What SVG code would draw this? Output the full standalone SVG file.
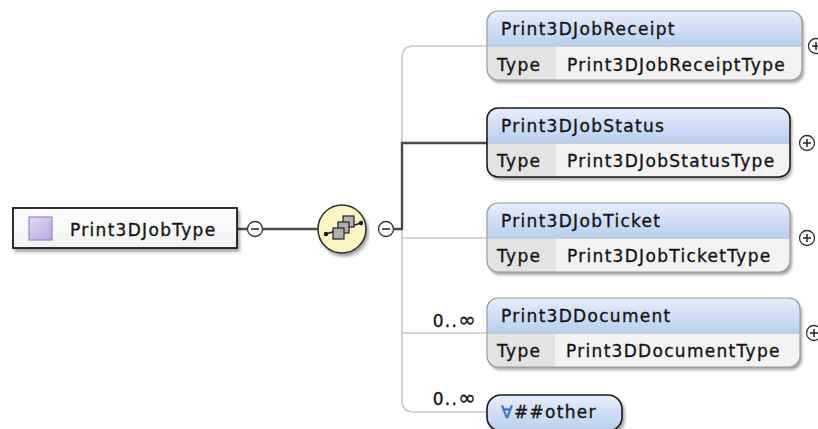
<svg xmlns="http://www.w3.org/2000/svg" width="818" height="429" viewBox="0 0 818 429">
<defs>
<linearGradient id="hdr" x1="0" y1="0" x2="0" y2="1"><stop offset="0" stop-color="#e6eefb"/><stop offset="1" stop-color="#b9cfef"/></linearGradient>
<linearGradient id="root" x1="0" y1="0" x2="0" y2="1"><stop offset="0" stop-color="#ffffff"/><stop offset="1" stop-color="#f1f1f3"/></linearGradient>
<linearGradient id="sq" x1="0" y1="0" x2="1" y2="1"><stop offset="0" stop-color="#e4dcf4"/><stop offset="1" stop-color="#b8a6e0"/></linearGradient>
<filter id="sh" x="-10%" y="-20%" width="130%" height="150%"><feDropShadow dx="2" dy="3" stdDeviation="1.5" flood-color="#000" flood-opacity="0.35"/></filter>
<clipPath id="cR"><rect x="487" y="11" width="315" height="69" rx="11"/></clipPath>
<clipPath id="cS"><rect x="487" y="108" width="303" height="69" rx="11"/></clipPath>
<clipPath id="cT"><rect x="487" y="203" width="303" height="69" rx="11"/></clipPath>
<clipPath id="cD"><rect x="487" y="298" width="313" height="69" rx="11"/></clipPath>
</defs>
<style>
text{font-family:"DejaVu Sans","Liberation Sans",sans-serif;font-size:17px;fill:#151515;letter-spacing:1.3px;stroke:#151515;stroke-width:0.35}
.inf{font-size:21px}
.thin{fill:none;stroke:#c8c8c8;stroke-width:1.6}
.dark{fill:none;stroke:#4a4a4a;stroke-width:2.4}
.tog{fill:#fff;stroke:#333;stroke-width:1.3}
.sign{stroke:#222;stroke-width:1.5;fill:none}
.hdr{fill:url(#hdr)}
.tc{fill:#e3e3e3}
.vc{fill:#f3f3f3}
.sep{stroke:#cfcfcf;stroke-width:1}
.bd{fill:none;stroke:#9a9a9a;stroke-width:1.2}
.bdk{fill:none;stroke:#1a1a1a;stroke-width:1.6}
</style>

<g id="connectors">
<line class="dark" x1="238" y1="229" x2="318" y2="229"/>
<path class="thin" d="M487 46 H414 Q402 46 402 58 V400 Q402 412 414 412 H487"/>
<line class="thin" x1="402" y1="238" x2="487" y2="238"/>
<line class="thin" x1="402" y1="333" x2="487" y2="333"/>
<path class="dark" d="M394 229 H402 V143 H487"/>
</g>

<g id="root-node">
<rect x="13" y="208" width="224" height="40" fill="url(#root)" stroke="#1a1a1a" stroke-width="1.8" filter="url(#sh)"/>
<rect x="29" y="217" width="23" height="23" fill="url(#sq)" stroke="#9a86c6" stroke-width="1.2"/>
<text x="70" y="236">Print3DJobType</text>
<circle class="tog" cx="255" cy="229" r="7.5"/>
<line class="sign" x1="251" y1="229" x2="259" y2="229"/>
</g>

<g id="sequence">
<circle cx="342" cy="229" r="24" fill="#fbf6c4" stroke="#333" stroke-width="1.6" filter="url(#sh)"/>
<line x1="326" y1="234" x2="361" y2="223" stroke="#222" stroke-width="1.4"/>
<circle cx="326" cy="234" r="2.2" fill="#111"/>
<circle cx="361" cy="223" r="2.2" fill="#111"/>
<rect x="343" y="216" width="11" height="11" fill="#b0b0b0" stroke="#222" stroke-width="1.2"/>
<rect x="338" y="222" width="11" height="11" fill="#b0b0b0" stroke="#222" stroke-width="1.2"/>
<rect x="333" y="228" width="11" height="11" fill="#b0b0b0" stroke="#222" stroke-width="1.2"/>
<circle class="tog" cx="386" cy="229" r="7.5"/>
<line class="sign" x1="382" y1="229" x2="390" y2="229"/>
</g>

<g id="Print3DJobReceipt">
<rect x="487" y="11" width="315" height="69" rx="11" fill="#fff" filter="url(#sh)"/>
<g clip-path="url(#cR)">
<rect class="hdr" x="487" y="11" width="315" height="35"/>
<rect class="tc" x="487" y="46" width="69" height="34"/>
<rect class="vc" x="556" y="46" width="246" height="34"/>
<line class="sep" x1="487" y1="46.5" x2="802" y2="46.5"/>
</g>
<rect class="bd" x="487" y="11" width="315" height="69" rx="11"/>
<text x="501" y="35">Print3DJobReceipt</text>
<text x="497" y="71">Type</text>
<text x="567" y="71">Print3DJobReceiptType</text>
<circle class="tog" cx="816" cy="46" r="7.5"/>
<line class="sign" x1="812" y1="46" x2="820" y2="46"/>
<line class="sign" x1="816" y1="42" x2="816" y2="50"/>
</g>

<g id="Print3DJobStatus">
<rect x="487" y="108" width="303" height="69" rx="11" fill="#fff" filter="url(#sh)"/>
<g clip-path="url(#cS)">
<rect class="hdr" x="487" y="108" width="303" height="35"/>
<rect class="tc" x="487" y="143" width="69" height="34"/>
<rect class="vc" x="556" y="143" width="234" height="34"/>
<line class="sep" x1="487" y1="143.5" x2="790" y2="143.5"/>
</g>
<rect class="bdk" x="487" y="108" width="303" height="69" rx="11"/>
<text x="501" y="132">Print3DJobStatus</text>
<text x="497" y="167">Type</text>
<text x="567" y="167">Print3DJobStatusType</text>
<circle class="tog" cx="807" cy="143" r="7.5"/>
<line class="sign" x1="803" y1="143" x2="811" y2="143"/>
<line class="sign" x1="807" y1="139" x2="807" y2="147"/>
</g>

<g id="Print3DJobTicket">
<rect x="487" y="203" width="303" height="69" rx="11" fill="#fff" filter="url(#sh)"/>
<g clip-path="url(#cT)">
<rect class="hdr" x="487" y="203" width="303" height="35"/>
<rect class="tc" x="487" y="238" width="69" height="34"/>
<rect class="vc" x="556" y="238" width="234" height="34"/>
<line class="sep" x1="487" y1="238.5" x2="790" y2="238.5"/>
</g>
<rect class="bd" x="487" y="203" width="303" height="69" rx="11"/>
<text x="501" y="227">Print3DJobTicket</text>
<text x="497" y="262">Type</text>
<text x="567" y="262">Print3DJobTicketType</text>
<circle class="tog" cx="807" cy="238" r="7.5"/>
<line class="sign" x1="803" y1="238" x2="811" y2="238"/>
<line class="sign" x1="807" y1="234" x2="807" y2="242"/>
</g>

<g id="Print3DDocument">
<text x="477" y="327" text-anchor="end" letter-spacing="0.5">0..<tspan class="inf">∞</tspan></text>
<rect x="487" y="298" width="313" height="69" rx="11" fill="#fff" filter="url(#sh)"/>
<g clip-path="url(#cD)">
<rect class="hdr" x="487" y="298" width="313" height="35"/>
<rect class="tc" x="487" y="333" width="68" height="34"/>
<rect class="vc" x="555" y="333" width="245" height="34"/>
<line class="sep" x1="487" y1="333.5" x2="800" y2="333.5"/>
</g>
<rect class="bd" x="487" y="298" width="313" height="69" rx="11"/>
<text x="501" y="322">Print3DDocument</text>
<text x="497" y="357">Type</text>
<text x="566" y="357">Print3DDocumentType</text>
<circle class="tog" cx="814" cy="333" r="7.5"/>
<line class="sign" x1="810" y1="333" x2="818" y2="333"/>
<line class="sign" x1="814" y1="329" x2="814" y2="337"/>
</g>

<g id="any-other">
<text x="477" y="405" text-anchor="end" letter-spacing="0.5">0..<tspan class="inf">∞</tspan></text>
<rect x="487" y="395" width="135" height="36" rx="14" fill="url(#hdr)" stroke="#1a1a1a" stroke-width="1.6" filter="url(#sh)"/>
<text x="501" y="418" letter-spacing="0.6"><tspan fill="#2f6fd6" stroke="#2f6fd6">∀</tspan>##other</text>
</g>
</svg>
